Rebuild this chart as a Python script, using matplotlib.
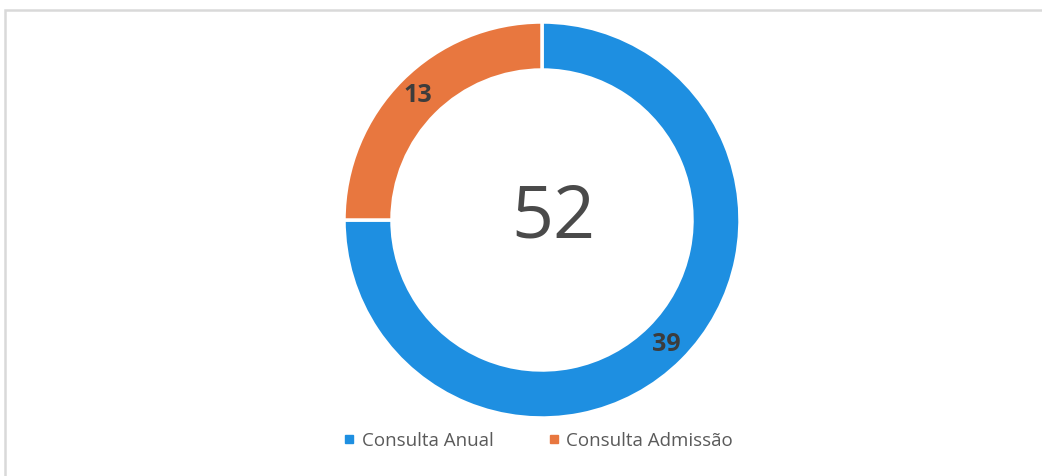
import matplotlib.pyplot as plt
from matplotlib.patches import Rectangle
from matplotlib.lines import Line2D

plt.rcParams['font.family'] = ['Open Sans', 'DejaVu Sans']

categories = ['Consulta Anual', 'Consulta Admissão']
values = [39, 13]
colors = ['#1E8FE1', '#E8773F']
total = sum(values)

W, H = 1042, 476
fig = plt.figure(figsize=(W / 100, H / 100), dpi=100)
fig.patch.set_facecolor('white')

# axes in pixel units (y up), spanning the whole figure
ax = fig.add_axes([0, 0, 1, 1])

# light frame around the chart area
ax.add_patch(Rectangle((5, -20), W + 20, H - 10 + 20, fill=False,
                       edgecolor='#d9d9d9', linewidth=1.8))

r_out = 198
ring = 48
wedges, _, autotexts = ax.pie(
    values, colors=colors, startangle=90, counterclock=False,
    center=(542, H - 220), radius=r_out, frame=True,
    wedgeprops=dict(width=ring, edgecolor='white', linewidth=2.5),
    autopct=lambda p: f'{p * total / 100:.0f}', pctdistance=0.89,
    textprops=dict(color='#3c3c3c', fontsize=18, fontweight='bold'))
ax.set_xlim(0, W)
ax.set_ylim(0, H)
ax.set_aspect('equal')
ax.axis('off')

ax.text(553, H - 219, str(total), ha='center', va='center',
        fontsize=53, color='#4a4a4a')

handles = [Line2D([], [], marker='s', linestyle='', markersize=6,
                  markerfacecolor=c, markeredgecolor=c) for c in colors]
fig.legend(handles, categories, loc='center', bbox_to_anchor=(538 / W, 1 - 441 / H),
           ncol=2, frameon=False, fontsize=13.5, labelcolor='#5a5a5a',
           handletextpad=0.3, columnspacing=2.9, handlelength=0.7)

fig.savefig('out.png', dpi=100)
